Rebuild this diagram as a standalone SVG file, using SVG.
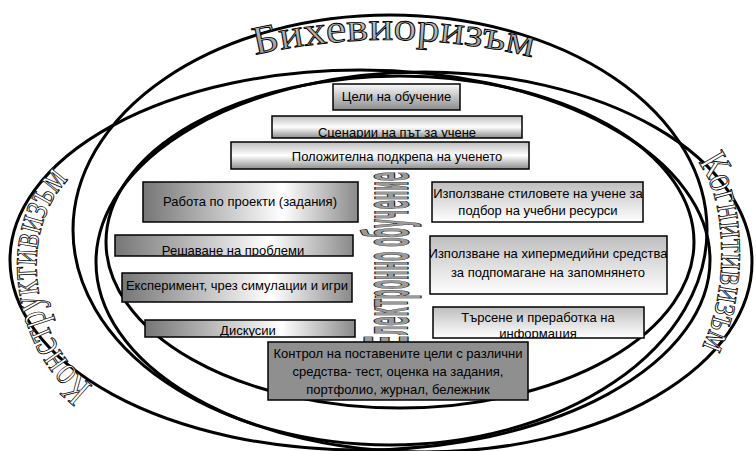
<svg xmlns="http://www.w3.org/2000/svg" width="756" height="451" viewBox="0 0 756 451">
<defs>
<style>
.ell{fill:none;stroke:#000;stroke-width:3}
.box{stroke:#000;stroke-width:1.5}
.t{font-family:"Liberation Sans",Arial,sans-serif;font-size:13px;fill:#000;text-anchor:middle}
.wa{font-family:"Liberation Serif","Times New Roman",serif;stroke:#000;stroke-width:0.9}
</style>
<linearGradient id="gTop" x1="0" y1="0" x2="0" y2="1"><stop offset="0" stop-color="#fafafa"/><stop offset="1" stop-color="#8c8c8c"/></linearGradient>
<linearGradient id="gMid" x1="0" y1="0" x2="0" y2="1"><stop offset="0" stop-color="#bdbdbd"/><stop offset="0.5" stop-color="#ffffff"/><stop offset="1" stop-color="#8c8c8c"/></linearGradient>
<linearGradient id="gLeft" x1="0" y1="0" x2="1" y2="0"><stop offset="0" stop-color="#767676"/><stop offset="0.65" stop-color="#ffffff"/><stop offset="1" stop-color="#8a8a8a"/></linearGradient>
<linearGradient id="gRight" x1="0" y1="0" x2="0" y2="1"><stop offset="0" stop-color="#bebebe"/><stop offset="1" stop-color="#ffffff"/></linearGradient>
<linearGradient id="gWa" x1="0" y1="0" x2="0" y2="1"><stop offset="0" stop-color="#d8d8d8"/><stop offset="1" stop-color="#8a8a8a"/></linearGradient>
<clipPath id="c2"><rect x="272" y="116" width="250" height="22"/></clipPath>
<clipPath id="c5"><rect x="115" y="235" width="238" height="21"/></clipPath>
<clipPath id="c7"><rect x="145" y="320" width="210" height="17"/></clipPath>
<clipPath id="c9"><rect x="430" y="236" width="237" height="58"/></clipPath>
<clipPath id="c10"><rect x="433" y="307" width="211" height="31"/></clipPath>
<path id="pBeh" d="M 255 55 Q 395 23 540 59"/>
<path id="pCon" d="M 93 386 C 25 335, 15 215, 82 168"/>
<path id="pCog" d="M 698 162 C 728 200, 731 300, 696 358"/>
</defs>
<rect width="756" height="451" fill="#fff"/>
<g id="ellipses">
<ellipse id="e-beh" class="ell" cx="390" cy="230" rx="317" ry="215"/>
<ellipse id="e-con" class="ell" cx="360" cy="260" rx="350" ry="190"/>
<ellipse id="e-cog" class="ell" cx="424" cy="262" rx="328" ry="190"/>
<ellipse id="e-inner" class="ell" cx="400" cy="242" rx="294" ry="166"/>
</g>
<g id="connectors"></g>
<g id="label-beh"><text class="wa" font-size="40" fill="url(#gWa)"><textPath href="#pBeh" textLength="280" lengthAdjust="spacingAndGlyphs">Бихевиоризъм</textPath></text></g>
<g id="label-con"><text class="wa" font-size="42" fill="#ffffff"><textPath href="#pCon" textLength="232" lengthAdjust="spacingAndGlyphs">Конструктивизъм</textPath></text></g>
<g id="label-cog"><text class="wa" font-size="40" fill="#ffffff"><textPath href="#pCog" textLength="192" lengthAdjust="spacingAndGlyphs">Когнитивизъм</textPath></text></g>
<g id="label-el"><text transform="translate(408 345) rotate(-90)" font-family="'DejaVu Sans',sans-serif" font-weight="bold" font-size="60" fill="#9a9a9a" stroke="#000" stroke-width="1" textLength="173" lengthAdjust="spacingAndGlyphs">Електронно обучение</text></g>
<g id="n1"><rect class="box" x="333" y="84" width="127" height="26" fill="url(#gTop)"/><text class="t" x="396.5" y="101">Цели на обучение</text></g>
<g id="n2"><rect class="box" x="272" y="116" width="250" height="22" fill="url(#gMid)"/><text class="t" x="397" y="137" clip-path="url(#c2)">Сценарии на път за учене</text></g>
<g id="n3"><rect class="box" x="231" y="142" width="298" height="27" fill="url(#gMid)"/><text class="t" x="397" y="161">Положителна подкрепа на ученето</text></g>
<g id="n4"><rect class="box" x="143" y="182" width="215" height="40" fill="url(#gLeft)"/><text class="t" x="250" y="206">Работа по проекти (задания)</text></g>
<g id="n5"><rect class="box" x="115" y="235" width="238" height="21" fill="url(#gLeft)"/><text class="t" x="233" y="255" clip-path="url(#c5)">Решаване на проблеми</text></g>
<g id="n6"><rect class="box" x="122" y="273" width="230" height="29" fill="url(#gLeft)"/><text class="t" x="237" y="290">Експеримент, чрез симулации и игри</text></g>
<g id="n7"><rect class="box" x="145" y="320" width="210" height="17" fill="url(#gLeft)"/><text class="t" x="248" y="335" clip-path="url(#c7)">Дискусии</text></g>
<g id="n8"><rect class="box" x="432" y="182" width="211" height="40" fill="url(#gRight)"/><text class="t" x="538" y="198">Използване стиловете на учене за</text><text class="t" x="538" y="215">подбор на учебни ресурси</text></g>
<g id="n9"><rect class="box" x="430" y="236" width="237" height="58" fill="url(#gRight)"/><g clip-path="url(#c9)"><text class="t" x="548" y="258">Използване на хипермедийни средства</text><text class="t" x="548" y="277">за подпомагане на запомнянето</text></g></g>
<g id="n10"><rect class="box" x="433" y="307" width="211" height="31" fill="url(#gRight)"/><g clip-path="url(#c10)"><text class="t" x="538" y="322">Търсене и преработка на</text><text class="t" x="538" y="338">информация</text></g></g>
<g id="n11"><rect class="box" x="268" y="342" width="260" height="58" fill="#8f8f8f"/><text class="t" x="398" y="358">Контрол на поставените цели с различни</text><text class="t" x="398" y="376">средства- тест, оценка на задания,</text><text class="t" x="398" y="394">портфолио, журнал, бележник</text></g>
</svg>
